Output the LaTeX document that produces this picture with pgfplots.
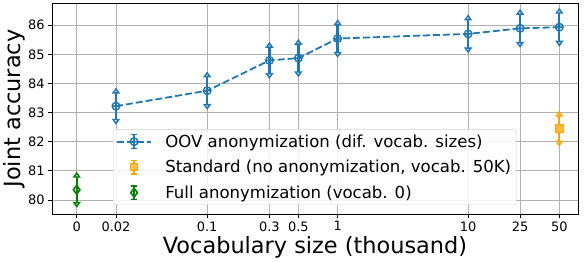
\documentclass[border=0pt]{standalone}
\usepackage{pgfplots}
\pgfplotsset{compat=1.18}
\usepackage{fontspec}
\setmainfont{DejaVu Sans}
\usetikzlibrary{arrows.meta}
\definecolor{tabblue}{HTML}{1F77B4}
\definecolor{morange}{HTML}{FFA500}
\definecolor{mgreen}{HTML}{008000}
\definecolor{gridgray}{HTML}{B0B0B0}
\pgfplotsset{
  errlegline/.style={legend image code/.code={
    \draw[solid, line width=2pt, mark=none] (0.6cm,-0.24cm) -- (0.6cm,0.24cm);
    \draw[solid, line width=1.3pt, mark=none] (0.5cm,0.24cm) -- (0.7cm,0.24cm) (0.5cm,-0.24cm) -- (0.7cm,-0.24cm);
    \draw[mark repeat=2, mark phase=2] plot coordinates {(0cm,0cm) (0.6cm,0cm) (1.2cm,0cm)};
    \path (1.6cm,0cm);
  }},
  errlegmark/.style={legend image code/.code={
    \draw[solid, line width=2pt, mark=none] (0.6cm,-0.24cm) -- (0.6cm,0.24cm);
    \draw[solid, line width=1.3pt, mark=none] (0.5cm,0.24cm) -- (0.7cm,0.24cm) (0.5cm,-0.24cm) -- (0.7cm,-0.24cm);
    \path (0cm,0cm) (1.6cm,0cm);
    \draw plot coordinates {(0.6cm,0cm)};
  }},
  errbarstyle/.style={solid, line width=2.3bp, -{Triangle[open,width=8bp,length=6bp,line width=1.4pt]}},
}
\begin{document}
\begin{tikzpicture}
\begin{axis}[
  scale only axis,
  width=526bp, height=211bp,
  xmode=log,
  xmin=0.00647, xmax=69.5,
  ymin=79.52, ymax=86.76,
  xtick={0.01,0.02,0.1,0.3,0.5,1,10,25,50},
  xticklabels={0,0.02,0.1,0.3,0.5,1,10,25,50},
  minor xtick={},
  ytick={80,81,82,83,84,85,86},
  log ticks with fixed point,
  /pgf/number format/assume math mode=true,
  ticklabel style={font=\fontsize{13}{13}\selectfont},
  xtick pos=bottom, ytick pos=left,
  tick align=outside,
  major tick length=4bp,
  tick style={black, line width=0.8pt},
  axis line style={line width=0.9pt},
  grid=major,
  major grid style={gridgray, line width=0.8pt},
  xlabel={Vocabulary size (thousand)},
  ylabel={Joint accuracy},
  label style={font=\fontsize{22.5}{22.5}\selectfont},
  xlabel style={at={(axis description cs:0.5,-0.156)}, anchor=center},
  ylabel style={at={(axis description cs:-0.072,0.5)}, anchor=center},
  legend style={at={(0.116,0.043)}, anchor=south west,
    font=\fontsize{16.6}{16.6}\selectfont,
    draw=gray!35, rounded corners=2pt, fill=white, fill opacity=0.85, text opacity=1,
    row sep=7.5bp, inner sep=3bp},
  legend cell align=left,
]
\addplot[tabblue, line width=1.8pt, dash pattern=on 7bp off 3bp,
  mark=oplus, mark size=3.8bp, mark options={solid, line width=1.4pt},
  errlegline,
  error bars/.cd, y dir=both, y explicit,
  error bar style={errbarstyle},
  error mark=none]
  coordinates {
  (0.02,83.22) +- (0,0.64)
  (0.1,83.75) +- (0,0.66)
  (0.3,84.79) +- (0,0.64)
  (0.5,84.87) +- (0,0.66)
  (1,85.54) +- (0,0.66)
  (10,85.70) +- (0,0.67)
  (25,85.89) +- (0,0.67)
  (50,85.93) +- (0,0.67)
  };
\addlegendentry{OOV anonymization (dif. vocab. sizes)}
\addplot[morange, only marks, mark=square*, mark size=3.8bp,
  mark options={fill=morange!75, line width=1pt},
  errlegmark,
  error bars/.cd, y dir=both, y explicit,
  error bar style={errbarstyle},
  error mark=none]
  coordinates {(50,82.45) +- (0,0.62)};
\addlegendentry{Standard (no anonymization, vocab. 50K)}
\addplot[mgreen, only marks, mark=diamond, mark size=4.4bp,
  mark options={fill=white, line width=1.6pt},
  errlegmark,
  error bars/.cd, y dir=both, y explicit,
  error bar style={errbarstyle},
  error mark=none]
  coordinates {(0.01,80.35) +- (0,0.62)};
\addlegendentry{Full anonymization (vocab. 0)}
\coordinate (bl) at (rel axis cs:0,0);
\coordinate (tr) at (rel axis cs:1,1);
\end{axis}
\pgfresetboundingbox
\path ([shift={(-52bp,-48bp)}]bl) rectangle ([shift={(8bp,3bp)}]tr);
\end{tikzpicture}
\end{document}
